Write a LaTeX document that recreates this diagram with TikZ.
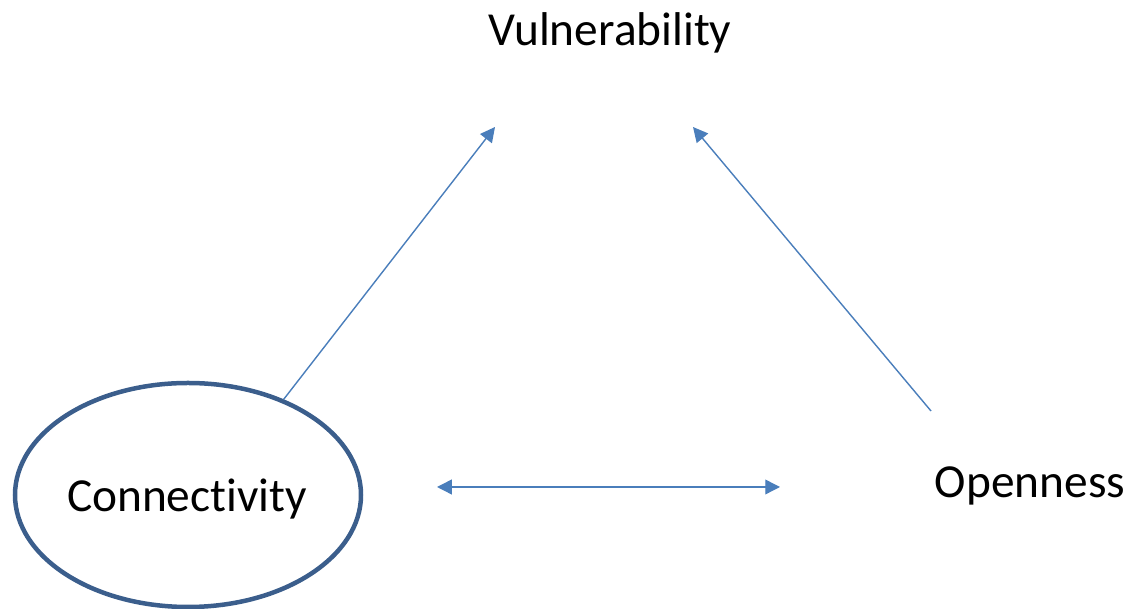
\documentclass[tikz,border=0pt]{standalone}
\usepackage{fontspec}
\setmainfont[Ligatures=NoCommon]{Carlito}
\usetikzlibrary{arrows.meta,shapes.geometric}
\definecolor{arrowblue}{HTML}{4A7EBB}
\definecolor{rimblue}{HTML}{3B5E8C}
\newcommand{\labelfont}{\fontsize{33.7}{40}\selectfont}
\newcommand{\tipsize}{10.5pt}

\begin{document}
\begin{tikzpicture}
\tikzset{
  conc/.style={font=\labelfont, anchor=base, inner sep=0pt},
  link/.style={arrowblue, line width=1pt, -{Triangle[length=\tipsize, width=\tipsize]}},
  twolink/.style={arrowblue, line width=1pt, {Triangle[length=\tipsize, width=\tipsize]}-{Triangle[length=\tipsize, width=\tipsize]}}
}
\useasboundingbox (0,0) rectangle (28.35,15.225);
\node[draw=rimblue, line width=3.2pt, ellipse, minimum width=8.65cm, minimum height=5.6cm, inner sep=0pt] (conn) at (4.7,2.85) {};
\node[conc] (connlabel) at (4.675,2.425) {Connectivity};
\node[conc] (vuln) at (15.25,14.075) {Vulnerability};
\node[conc] (open) at (25.75,2.775) {Openness};
%free ends of the connectors
\coordinate (vulnL) at (12.375,12.05);
\coordinate (vulnR) at (17.325,12.05);
\coordinate (openT) at (23.275,4.95);
\coordinate (midL) at (10.925,3.05);
\coordinate (midR) at (19.5,3.05);
\draw[link] (conn.45) -- (vulnL);
\draw[link] (openT) -- (vulnR);
\draw[twolink] (midL) -- (midR);
\end{tikzpicture}
\end{document}
